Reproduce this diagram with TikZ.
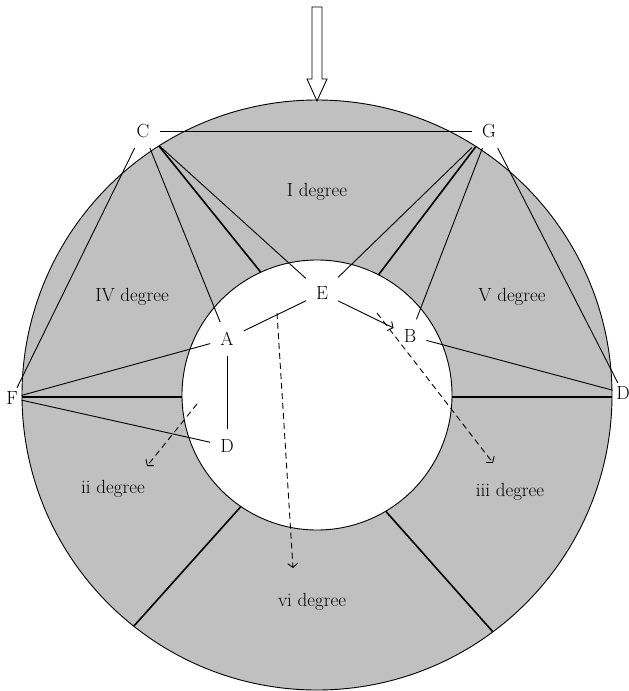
\documentclass[tikz,border=0pt]{standalone}
\usetikzlibrary{arrows.meta,calc}
\definecolor{ringgray}{RGB}{192,192,192}
\begin{document}
\begin{tikzpicture}[x=1pt,y=-1pt,
  lbl/.style={font=\fontsize{19}{22}\selectfont, inner sep=10pt},
  edgelbl/.style={font=\fontsize{19}{22}\selectfont, inner sep=3.5pt},
  sector/.style={font=\fontsize{19}{22}\selectfont},
  conn/.style={line width=0.9pt},
  divider/.style={line width=1.6pt},
  ring/.style={line width=0.9pt},
  barb/.style={-{Straight Barb[length=4pt,width=10pt]}},
  dasharrow/.style={line width=0.9pt, dash pattern=on 6pt off 4pt, barb}
]
\useasboundingbox (0,0) rectangle (629,691);
\coordinate (O) at (317,395);
% ring
\fill[ringgray, even odd rule] (O) circle[radius=295] (O) circle[radius=135];
\draw[ring] (O) circle[radius=295];
\draw[ring] (O) circle[radius=135];
% sector dividers
\draw[divider] ($(O)+(-122.4:295)$) -- ($(O)+(-114.6:135)$);
\draw[divider] ($(O)+(-57.4:295)$) -- ($(O)+(-62.9:135)$);
\draw[divider] ($(O)+(180:295)+(0,2)$) -- ($(O)+(180:135)+(0,2)$);
\draw[divider] ($(O)+(0:295)+(0,2)$) -- ($(O)+(0:135)+(0,2)$);
\draw[divider] ($(O)+(-231.6:295)$) -- ($(O)+(-235.7:135)$);
\draw[divider] ($(O)+(53.4:295)$) -- ($(O)+(59.4:135)$);
% top arrow
\draw[ring, fill=white] (312,7) -- (322,7) -- (322,79) -- (327,79) -- (317,101) -- (307,79) -- (312,79) -- cycle;
% letter nodes
\node[lbl] (C) at (143,131) {C};
\node[lbl] (G) at (489,131) {G};
\node[lbl] (E) at (322,293) {E};
\node[lbl] (A) at (227,339) {A};
\node[lbl] (B) at (410,336) {B};
\node[lbl] (D1) at (227,446) {D};
\node[edgelbl] (F) at (12,398) {F};
\node[edgelbl] (D2) at (623,393) {D};
% connectors
\draw[conn] (C) -- (G);
\draw[conn] (C) -- (F);
\draw[conn] (C) -- (A);
\draw[conn] (C) -- (E);
\draw[conn] (G) -- (E);
\draw[conn] (G) -- (B);
\draw[conn] (G) -- (D2);
\draw[conn] (F) -- (A);
\draw[conn] (F) -- (D1);
\draw[conn] (A) -- (D1);
\draw[conn] (A) -- (E);
\draw[conn, barb] (E) -- (B);
\draw[conn] (B) -- (D2);
% dashed arrows
\coordinate (s1) at (197,404); \coordinate (e1) at (147,466);
\coordinate (s2) at (277,313); \coordinate (e2) at (293,568);
\coordinate (s3) at (377,313); \coordinate (e3) at (493,463);
\draw[dasharrow] (s1) -- (e1);
\draw[dasharrow] (s2) -- (e2);
\draw[dasharrow] (s3) -- (e3);
% sector labels
\node[sector] (l1) at (317,192) {I degree};
\node[sector] (l4) at (132,297) {IV degree};
\node[sector] (l5) at (512,297) {V degree};
\node[sector] (l2) at (113,489) {ii degree};
\node[sector] (l3) at (510,492) {iii degree};
\node[sector] (l6) at (312,602) {vi degree};
\end{tikzpicture}
\end{document}
